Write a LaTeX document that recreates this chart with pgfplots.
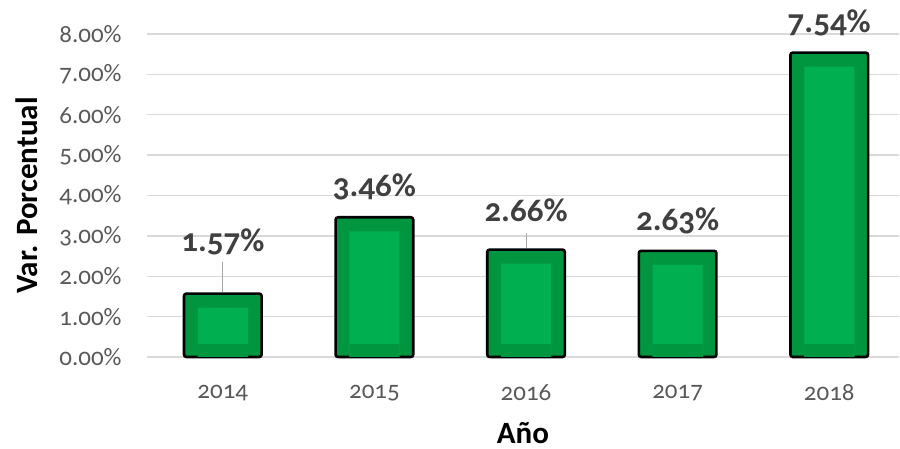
\documentclass[border=0pt]{standalone}
\usepackage{pgfplots}
\pgfplotsset{compat=1.18}
\usepackage{pgfplotstable}
\usepackage{fontspec}
\setmainfont{Carlito}[Numbers=OldStyle]
\newfontfamily\titlefont{Carlito}
\definecolor{outergreen}{HTML}{009640}
\definecolor{innergreen}{HTML}{00B050}
\definecolor{gridgray}{HTML}{D9D9D9}
\definecolor{ticktext}{HTML}{595959}
\definecolor{labeltext}{HTML}{404040}

% year index, variation (%), label offset above bar (pt)
\pgfplotstableread{
x y dy
0 1.57 21.3
1 3.46 10.5
2 2.66 13.8
3 2.63 10
4 7.54 10
}\vardata
% lighter inner panel of each bar
\pgfplotstableread{
x y
0 1.22
1 3.11
2 2.31
3 2.28
4 7.19
}\innerdata
\pgfplotstableread{
x y
0 0.32
1 0.32
2 0.32
3 0.32
4 0.32
}\basedata

\begin{document}
\begin{tikzpicture}
\path[use as bounding box] (-73.5pt,-46pt) rectangle (376.5pt,178.5pt);
\begin{axis}[
    scale only axis,
    width=376pt, height=161.5pt,
    xmin=-0.5, xmax=4.46,
    ymin=0, ymax=8,
    clip=false,
    ybar,
    xtick={0,1,2,3,4},
    xticklabels={2014,2015,2016,2017,2018},
    ytick={0,1,...,8},
    yticklabel={\pgfmathprintnumber[fixed,fixed zerofill,precision=2,assume math mode=true]{\tick}\%},
    tick style={draw=none},
    major tick length=0pt,
    axis line style={draw=none},
    ymajorgrids=true,
    grid style={gridgray, line width=0.7pt},
    ticklabel style={font=\fontsize{12.5}{14}\selectfont, color=ticktext, inner sep=0pt},
    yticklabel style={anchor=east, xshift=-12.5pt},
    xticklabel style={anchor=center, yshift=-18pt},
    xlabel={Año},
    ylabel={Var. Porcentual},
    every axis x label/.style={at={(rel axis cs:0.5,0)}, yshift=-38pt, anchor=center,
        font=\titlefont\bfseries\fontsize{15.5}{18}\selectfont, color=black},
    every axis y label/.style={at={(rel axis cs:0,0.5)}, xshift=-60pt, rotate=90, anchor=center,
        font=\titlefont\bfseries\fontsize{15.5}{18}\selectfont, color=black},
]
% leader lines
\addplot[draw=gray!70, line width=0.5pt, mark=none, sharp plot] coordinates {(0,1.60) (0,2.35)};
\addplot[draw=gray!70, line width=0.5pt, mark=none, sharp plot] coordinates {(2,2.69) (2,3.07)};
% outer bars with labels
\addplot[ybar, bar shift=0pt, bar width=38.8pt, fill=outergreen, draw=black, line width=1.3pt, rounded corners=1.2pt,
    visualization depends on={\thisrow{dy} \as \dy},
    nodes near coords={\pgfmathprintnumber[fixed,fixed zerofill,precision=2,assume math mode=true]{\pgfplotspointmeta}\%},
    every node near coord/.style={anchor=base, inner sep=0pt, yshift=\dy pt, font=\bfseries\fontsize{16.5}{18}\selectfont, color=labeltext},
] table[x=x, y=y] {\vardata};
% inner panels
\addplot[ybar, bar shift=0pt, bar width=25pt, fill=innergreen, draw=none] table[x=x, y=y] {\innerdata};
\addplot[ybar, bar shift=0pt, bar width=25pt, fill=outergreen, draw=none] table[x=x, y=y] {\basedata};
\end{axis}
\end{tikzpicture}
\end{document}
